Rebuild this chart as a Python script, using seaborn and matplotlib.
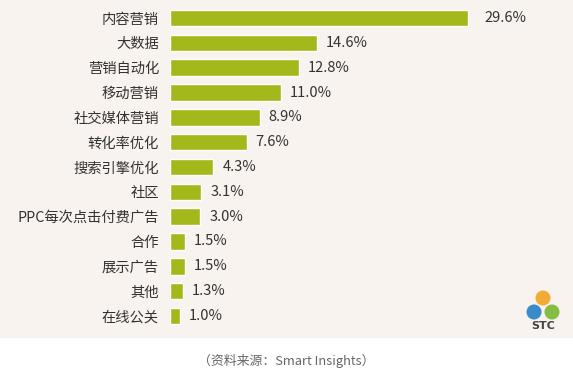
import matplotlib
matplotlib.use("Agg")
import matplotlib.pyplot as plt
import seaborn as sns
import pandas as pd
from matplotlib.patches import Rectangle, Circle

categories = ["内容营销", "大数据", "营销自动化", "移动营销", "社交媒体营销", "转化率优化",
              "搜索引擎优化", "社区", "PPC每次点击付费广告", "合作", "展示广告", "其他", "在线公关"]
values = [29.6, 14.6, 12.8, 11.0, 8.9, 7.6, 4.3, 3.1, 3.0, 1.5, 1.5, 1.3, 1.0]
value_labels = ["29.6%", "14.6%", "12.8%", "11.0%", "8.9%", "7.6%", "4.3%", "3.1%",
                "3.0%", "1.5%", "1.5%", "1.3%", "1.0%"]
source_text = "（资料来源：Smart Insights）"

sns.set_theme(style="white")
plt.rcParams['font.family'] = ['Noto Sans CJK SC', 'DejaVu Sans']

df = pd.DataFrame({"cat": categories, "val": values})

W, H = 573, 372
fig = plt.figure(figsize=(W / 100, H / 100), dpi=100)
fig.patch.set_facecolor("white")
bg = Rectangle((0, 1 - 338 / H), 1, 338 / H, transform=fig.transFigure,
               facecolor="#F8F3EE", edgecolor="none", zorder=-10)
fig.patches.append(bg)

ax = fig.add_axes([170 / W, 1 - 328.4 / H, 402.8 / W, 322.8 / H])
ax.set_zorder(1)
ax.set_facecolor("none")
ax.patch.set_alpha(0)
sns.barplot(data=df, y="cat", x="val", orient="h", color="#A4B71B",
            saturation=1, width=0.66, ax=ax)
ax.set_xlim(0, 40)
ax.set_ylim(12.5, -0.5)
for s in ax.spines.values():
    s.set_visible(False)
ax.set_xticks([])
ax.set_xlabel("")
ax.set_ylabel("")
ax.tick_params(axis="y", length=0, pad=8, labelsize=10.3, labelcolor="#333333")

for i, (v, lab) in enumerate(zip(values, value_labels)):
    off = 1.6 if v > 20 else 0.9
    ax.text(v + off, i, lab, va="center", ha="left", fontsize=10.5, color="#333333")

fig.text(0.5, 1 - 361 / H, source_text, ha="center", va="center", fontsize=9.3, color="#666666")

# STC logo
for (dx, dy, col) in [(0, 10, "#F2A72B"), (-9, -4, "#2E86C8"), (9, -4, "#7DBB3A")]:
    circ = Circle((543 + dx, H - 308 + dy), 7.5, transform=None, facecolor=col,
                  edgecolor="none", alpha=0.95, zorder=2)
    fig.patches.append(circ)
fig.text(543 / W, 1 - 326 / H, "STC", ha="center", va="center", fontsize=8,
         fontweight="bold", color="#444444", family=["DejaVu Sans"])

fig.savefig("out.png", dpi=100, facecolor=fig.get_facecolor())
